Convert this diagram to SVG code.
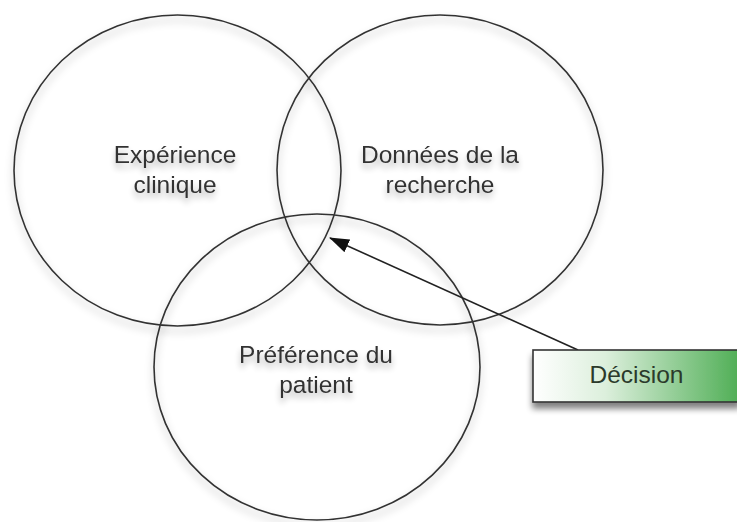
<svg xmlns="http://www.w3.org/2000/svg" width="737" height="522" viewBox="0 0 737 522">
<style>
.c{fill:none;stroke:#333;stroke-width:1.6;filter:url(#sh)}
.t{font-family:"Liberation Sans",Arial,sans-serif;font-size:24.5px;fill:#333;text-anchor:middle;filter:url(#ts)}
</style>
<defs>
<filter id="sh" x="-20%" y="-20%" width="140%" height="140%">
<feGaussianBlur in="SourceAlpha" stdDeviation="4"/>
<feOffset dx="0" dy="5" result="b"/>
<feComponentTransfer in="b" result="s"><feFuncA type="linear" slope="0.35"/></feComponentTransfer>
<feMerge><feMergeNode in="s"/><feMergeNode in="SourceGraphic"/></feMerge>
</filter>
<filter id="ts" x="-20%" y="-40%" width="140%" height="200%">
<feGaussianBlur in="SourceAlpha" stdDeviation="3"/>
<feOffset dx="0" dy="5" result="b"/>
<feComponentTransfer in="b" result="s"><feFuncA type="linear" slope="0.3"/></feComponentTransfer>
<feMerge><feMergeNode in="s"/><feMergeNode in="SourceGraphic"/></feMerge>
</filter>
<filter id="bs" x="-10%" y="-30%" width="130%" height="170%">
<feGaussianBlur in="SourceAlpha" stdDeviation="3"/>
<feOffset dx="0" dy="6" result="b"/>
<feComponentTransfer in="b" result="s"><feFuncA type="linear" slope="0.5"/></feComponentTransfer>
<feMerge><feMergeNode in="s"/><feMergeNode in="SourceGraphic"/></feMerge>
</filter>
<linearGradient id="g" x1="0" y1="0" x2="1" y2="0">
<stop offset="0" stop-color="#ffffff"/>
<stop offset="0.35" stop-color="#dcefdc"/>
<stop offset="1" stop-color="#4fae55"/>
</linearGradient>
<marker id="ah" viewBox="0 0 10 10" refX="9" refY="5" markerWidth="8" markerHeight="8" markerUnits="userSpaceOnUse" orient="auto">
<path d="M0,0 L10,5 L0,10 z" fill="#111"/>
</marker>
<marker id="ah2" viewBox="0 0 20 14" refX="19" refY="7" markerWidth="20" markerHeight="14" markerUnits="userSpaceOnUse" orient="auto">
<path d="M0,0 L20,7 L0,14 z" fill="#111"/>
</marker>
</defs>
<rect width="737" height="522" fill="#fff"/>
<g id="experience">
<ellipse class="c" cx="177.5" cy="170.5" rx="163.5" ry="155.5"/>
<text class="t" x="175" y="163">Expérience</text>
<text class="t" x="175" y="193">clinique</text>
</g>
<g id="donnees">
<ellipse class="c" cx="440" cy="170" rx="163" ry="155"/>
<text class="t" x="440" y="163">Données de la</text>
<text class="t" x="440" y="193">recherche</text>
</g>
<g id="preference">
<ellipse class="c" cx="317" cy="367" rx="163" ry="153"/>
<text class="t" x="316" y="363">Préférence du</text>
<text class="t" x="316" y="393">patient</text>
</g>
<g id="connectors">
<line x1="578" y1="350" x2="330" y2="238" stroke="#222" stroke-width="1.6" marker-end="url(#ah2)"/>
</g>
<g id="decision">
<rect x="533" y="350" width="207" height="52" fill="url(#g)" stroke="#333" stroke-width="1.6" filter="url(#bs)"/>
<text x="636.5" y="383" font-family="Liberation Sans,Arial,sans-serif" font-size="24.5" fill="#2b3a2b" text-anchor="middle">Décision</text>
</g>
</svg>
